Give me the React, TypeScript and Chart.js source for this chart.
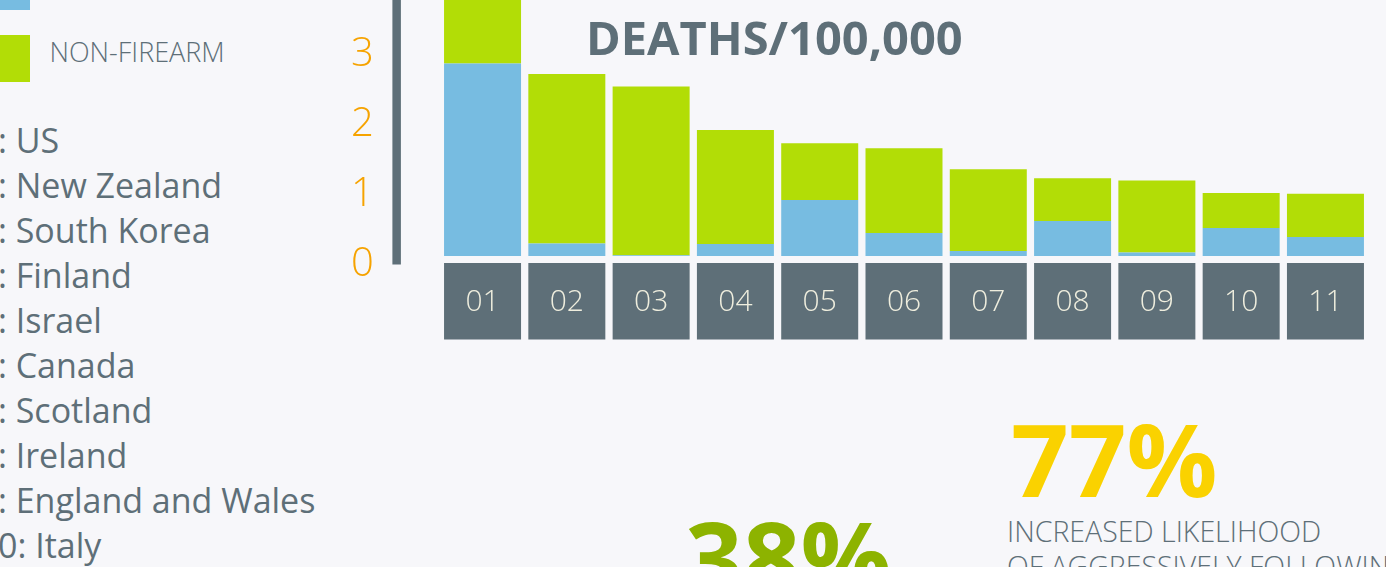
import React, { useEffect, useRef } from "react";
import { Chart, registerables } from "chart.js";

Chart.register(...registerables);

const categories = ["01", "02", "03", "04", "05", "06", "07", "08", "09", "10", "11"];
const firearm = [2.75, 0.18, 0.01, 0.17, 0.8, 0.33, 0.07, 0.5, 0.05, 0.4, 0.27];
const nonFirearm = [1.2, 2.42, 2.41, 1.63, 0.81, 1.21, 1.17, 0.61, 1.03, 0.5, 0.62];
const yTickValues = [0, 1, 2, 3];
const countries = [
  "US",
  "New Zealand",
  "South Korea",
  "Finland",
  "Israel",
  "Canada",
  "Scotland",
  "Ireland",
  "England and Wales",
  "Italy",
];

const BG = "#f7f7fa";
const GRAY = "#5e6f78";
const BLUE = "#77bce1";
const GREEN = "#b2dd06";
const ORANGE = "#f6a300";
const YELLOW = "#fad200";
const DARKGREEN = "#8db300";
const FONT = "'Open Sans', 'Noto Sans', sans-serif";

// helper: place text by baseline (Open Sans, line-height 1)
const txt = (
  left: number,
  baseline: number,
  size: number,
  extra: React.CSSProperties = {}
): React.CSSProperties => ({
  position: "absolute",
  left,
  top: baseline - 0.888 * size,
  fontSize: size,
  lineHeight: 1,
  fontFamily: FONT,
  whiteSpace: "nowrap",
  color: GRAY,
  margin: 0,
  ...extra,
});

const boxesPlugin = {
  id: "labelBoxes",
  beforeDraw(chart: any) {
    const { ctx } = chart;
    const meta = chart.getDatasetMeta(0);
    const y0 = chart.scales.y.getPixelForValue(0);
    ctx.save();
    ctx.fillStyle = GRAY;
    meta.data.forEach((el: any) => {
      const w = el.width;
      ctx.fillRect(el.x - w / 2, y0 + 7, w, 76.5);
    });
    // thick axis line left of the plot
    ctx.fillRect(chart.chartArea.left - 48, 0, 8.5, y0 + 8.5);
    ctx.restore();
  },
};

// canvas geometry: plot top at canvas y=30, 350px tall (0..5), x-axis band 90px
const CANVAS_TOP = -124;
const CANVAS_H = 470;

function BarChart() {
  const ref = useRef<HTMLCanvasElement | null>(null);
  useEffect(() => {
    if (!ref.current) return;
    const chart = new Chart(ref.current, {
      type: "bar",
      data: {
        labels: categories,
        datasets: [
          {
            label: "FIREARM",
            data: firearm,
            backgroundColor: BLUE,
            borderWidth: 0,
            barPercentage: 1,
            categoryPercentage: 0.9135,
          },
          {
            label: "NON-FIREARM",
            data: nonFirearm,
            backgroundColor: GREEN,
            borderWidth: 0,
            barPercentage: 1,
            categoryPercentage: 0.9135,
          },
        ],
      },
      options: {
        responsive: false,
        animation: false,
        devicePixelRatio: 1,
        layout: { padding: { top: 30, right: 18.4, left: 51, bottom: 0 } },
        plugins: {
          legend: { display: false },
          tooltip: { enabled: false },
          title: { display: false },
        },
        scales: {
          x: {
            stacked: true,
            grid: { display: false, drawTicks: false },
            border: { display: false },
            ticks: {
              color: "#efeede",
              font: { family: FONT, size: 30, weight: "300" as any },
              padding: 28,
              maxRotation: 0,
              autoSkip: false,
            },
            afterFit: (s: any) => {
              s.height = 90;
            },
          },
          y: {
            stacked: true,
            min: 0,
            max: 5,
            grid: { display: false, drawTicks: false },
            border: { display: false },
            afterBuildTicks: (s: any) => {
              s.ticks = yTickValues.map((v) => ({ value: v }));
            },
            ticks: {
              color: ORANGE,
              font: { family: FONT, size: 40, weight: "300" as any },
              padding: 0,
              crossAlign: "far",
              labelOffset: 9,
            },
            afterFit: (s: any) => {
              s.width = 89.4;
            },
          },
        },
      },
      plugins: [boxesPlugin],
    });
    return () => chart.destroy();
  }, []);
  return (
    <canvas
      ref={ref}
      width={1086}
      height={CANVAS_H}
      style={{ position: "absolute", left: 300, top: CANVAS_TOP, width: 1086, height: CANVAS_H }}
    />
  );
}

export default function App() {
  return (
    <div
      style={{
        position: "fixed",
        left: 0,
        top: 0,
        width: 1386,
        height: 567,
        overflow: "hidden",
        background: BG,
        fontFamily: FONT,
      }}
    >
      {/* legend swatches */}
      <div style={{ position: "absolute", left: 0, top: -37, width: 30, height: 47, background: BLUE }} />
      <div style={{ position: "absolute", left: 0, top: 35, width: 30, height: 47, background: GREEN }} />
      <div style={txt(49.5, 62.3, 27, { fontWeight: 300 })}>NON-FIREARM</div>

      {/* country list */}
      {countries.map((c, i) => (
        <div key={c} style={txt(-21.5, 153.3 + i * 45, 34)}>
          {`${i + 1}: ${c}`}
        </div>
      ))}

      <BarChart />

      <div style={txt(586, 56, 47, { fontWeight: 700 })}>DEATHS/100,000</div>

      <div style={txt(1011, 498, 101, { fontWeight: 700, color: YELLOW })}>77%</div>
      <div style={txt(1007, 542.3, 28.5, { fontWeight: 300 })}>INCREASED LIKELIHOOD</div>
      <div style={txt(1007, 577, 28.5, { fontWeight: 300 })}>OF AGGRESSIVELY FOLLOWING</div>
      <div style={txt(685, 595.7, 101, { fontWeight: 700, color: DARKGREEN })}>38%</div>
    </div>
  );
}
